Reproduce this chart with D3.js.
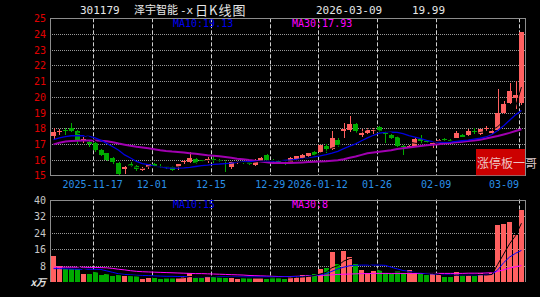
<!DOCTYPE html>
<html>
<head>
<meta charset="utf-8">
<script src="https://cdn.jsdelivr.net/npm/d3@7"></script>
<style>
  body { margin: 0; background: #000; }
  svg { display: block; }
</style>
</head>
<body>
<svg id="chart" width="540" height="297"></svg>
<script>
// trading days shown (80 sessions)
const dates = [
  "2025-11-06","2025-11-07","2025-11-10","2025-11-11","2025-11-12","2025-11-13","2025-11-14",
  "2025-11-17","2025-11-18","2025-11-19","2025-11-20","2025-11-21",
  "2025-11-24","2025-11-25","2025-11-26","2025-11-27","2025-11-28",
  "2025-12-01","2025-12-02","2025-12-03","2025-12-04","2025-12-05",
  "2025-12-08","2025-12-09","2025-12-10","2025-12-11","2025-12-12",
  "2025-12-15","2025-12-16","2025-12-17","2025-12-18","2025-12-19",
  "2025-12-22","2025-12-23","2025-12-24","2025-12-25","2025-12-26",
  "2025-12-29","2025-12-30","2025-12-31",
  "2026-01-05","2026-01-06","2026-01-07","2026-01-08","2026-01-09",
  "2026-01-12","2026-01-13","2026-01-14","2026-01-15","2026-01-16",
  "2026-01-19","2026-01-20","2026-01-21","2026-01-22","2026-01-23",
  "2026-01-26","2026-01-27","2026-01-28","2026-01-29","2026-01-30",
  "2026-02-02","2026-02-03","2026-02-04","2026-02-05","2026-02-06",
  "2026-02-09","2026-02-10","2026-02-11","2026-02-12","2026-02-13",
  "2026-02-24","2026-02-25","2026-02-26","2026-02-27",
  "2026-03-02","2026-03-03","2026-03-04","2026-03-05","2026-03-06",
  "2026-03-09"
];

const open = [
  17.5,17.75,17.9,18.02,17.85,17.2,17.12,17.05,16.6,16.4,
  16.1,15.8,15.38,15.75,15.6,15.32,15.5,15.7,15.62,15.58,
  15.52,15.5,15.82,15.85,16.05,15.95,15.88,16.02,15.98,15.78,
  15.5,15.8,15.85,15.82,15.68,15.92,16.28,16.0,15.9,15.82,
  15.8,16.05,16.12,16.22,16.5,16.5,16.85,16.7,17.25,17.8,
  17.88,18.28,17.55,17.72,17.8,18.08,17.75,17.55,17.45,16.88,
  16.82,16.88,17.3,17.2,16.98,17.22,17.3,17.25,17.4,17.55,
  17.55,17.85,17.6,17.95,17.72,17.9,18.96,19.6,19.95,19.6
];
const high = [
  18.0,17.95,18.0,18.3,17.9,17.45,17.2,17.1,16.65,16.45,
  16.15,15.85,15.6,15.85,15.65,15.55,15.75,15.78,15.7,15.62,
  15.6,15.75,15.98,16.5,16.1,16.0,16.15,16.2,16.05,16.0,
  15.88,15.92,15.9,15.88,16.02,16.15,16.35,16.05,15.95,15.88,
  16.15,16.25,16.35,16.45,16.55,16.95,17.0,17.85,17.4,18.3,
  18.75,18.3,17.95,18.0,18.0,18.12,17.85,17.6,17.48,16.95,
  16.95,17.4,17.56,17.25,17.12,17.32,17.35,17.3,17.82,17.6,
  17.95,18.0,17.98,18.12,18.0,20.5,19.76,20.88,21.0,24.14
];
const low = [
  17.3,17.55,17.55,17.75,17.0,17.05,16.8,16.5,16.2,15.9,
  15.75,15.0,15.1,15.5,15.3,15.25,15.4,15.55,15.45,15.4,
  15.25,15.35,15.75,15.8,15.75,15.82,15.78,15.8,15.82,15.2,
  15.42,15.7,15.72,15.68,15.62,15.85,15.9,15.85,15.75,15.65,
  15.75,16.0,16.05,16.15,16.25,16.45,16.4,16.6,16.8,17.35,
  17.75,17.7,17.45,17.65,17.62,17.75,17.05,17.3,16.78,16.3,
  16.75,16.8,17.0,17.05,16.72,17.18,17.18,17.12,17.35,17.42,
  17.5,17.65,17.58,17.82,17.65,17.85,18.9,19.55,19.25,19.5
];
const close = [
  17.75,17.85,17.85,17.82,17.2,17.3,17.02,16.62,16.3,15.95,
  15.85,15.1,15.55,15.62,15.4,15.45,15.7,15.6,15.52,15.5,
  15.35,15.7,15.92,16.12,15.8,15.88,16.02,15.96,15.9,15.7,
  15.82,15.86,15.8,15.75,15.98,16.1,15.96,15.9,15.82,15.72,
  16.1,16.2,16.3,16.4,16.32,16.9,16.65,17.38,16.95,17.95,
  18.28,17.82,17.7,17.9,17.88,17.8,17.62,17.38,16.85,16.82,
  16.88,17.3,17.18,17.1,17.05,17.28,17.22,17.18,17.7,17.45,
  17.8,17.75,17.94,18.02,17.85,18.95,19.52,20.37,20.12,24.14
];
// volume, x万
const volume = [
  12.5,7.7,6.6,6.3,6.3,4.2,4.2,5.0,3.4,3.9,
  2.9,3.4,3.1,2.9,2.9,1.8,2.3,2.1,1.8,2.1,
  2.1,2.1,2.9,4.7,2.1,2.1,2.6,2.6,2.6,2.1,
  2.1,1.8,2.1,2.1,2.1,2.1,1.8,2.6,2.1,1.8,
  2.6,2.9,3.4,3.4,3.9,6.3,7.0,14.4,8.6,15.0,
  12.2,8.6,5.8,4.7,5.3,5.8,4.7,3.9,5.3,4.7,
  5.8,4.7,3.9,3.4,3.9,3.4,2.6,2.6,5.1,3.4,
  3.4,3.0,4.4,3.4,4.7,27.8,28.0,29.1,23.0,34.7
];
// moving averages as drawn
const ma10 = [
  17.28,17.38,17.47,17.52,17.53,17.52,17.48,17.38,17.22,17.03,
  16.82,16.6,16.3,16.1,15.88,15.75,15.68,15.58,15.54,15.48,
  15.46,15.46,15.47,15.5,15.56,15.62,15.65,15.7,15.72,15.75,
  15.78,15.82,15.85,15.87,15.89,15.89,15.9,15.9,15.92,15.95,
  15.98,16.02,16.06,16.12,16.18,16.24,16.32,16.42,16.53,16.7,
  16.86,17.0,17.2,17.38,17.55,17.68,17.74,17.75,17.73,17.66,
  17.53,17.43,17.33,17.22,17.15,17.12,17.1,17.12,17.16,17.2,
  17.24,17.3,17.36,17.44,17.6,17.85,18.15,18.5,18.85,19.13
];
const ma30 = [
  16.97,17.08,17.15,17.18,17.2,17.21,17.21,17.21,17.2,17.17,
  17.1,17.02,16.95,16.88,16.82,16.77,16.72,16.66,16.6,16.55,
  16.51,16.48,16.45,16.41,16.37,16.33,16.28,16.25,16.21,16.17,
  16.12,16.06,16.02,15.97,15.93,15.88,15.83,15.79,15.78,15.78,
  15.78,15.8,15.82,15.84,15.86,15.88,15.9,15.93,15.96,16.02,
  16.12,16.2,16.3,16.4,16.45,16.5,16.55,16.6,16.67,16.72,
  16.77,16.82,16.87,16.92,16.95,16.98,17.02,17.06,17.1,17.14,
  17.18,17.22,17.27,17.34,17.42,17.5,17.6,17.7,17.82,17.93
];
const volMa10 = [
  6.6,6.6,6.5,6.4,6.3,6.3,6.3,6.3,6.2,5.5,
  4.8,4.1,3.8,3.6,3.4,3.3,3.2,3.1,3.0,2.9,
  2.9,2.8,2.8,2.8,2.7,2.7,2.7,2.7,2.7,2.7,
  2.6,2.6,2.6,2.6,2.6,2.6,2.6,2.6,2.6,2.7,
  2.7,2.8,2.8,3.0,3.3,3.7,4.2,5.3,6.5,7.3,
  8.0,8.2,8.3,8.3,8.3,8.3,8.2,7.3,6.5,5.7,
  5.3,4.8,4.5,4.2,4.0,3.8,3.6,3.5,3.4,3.4,
  3.4,3.5,3.6,3.7,3.8,6.0,9.5,12.2,14.0,15.4
];
const volMa30 = [
  7.3,7.3,7.3,7.3,7.3,7.3,7.2,7.2,7.1,7.0,
  6.7,6.3,6.0,5.6,5.3,5.1,5.0,4.9,4.8,4.7,
  4.6,4.5,4.4,4.3,4.2,4.2,4.1,4.0,3.9,3.8,
  3.7,3.6,3.5,3.3,3.2,3.1,3.0,2.9,2.8,2.8,
  2.8,2.9,3.0,3.1,3.2,3.3,3.4,3.6,3.8,3.9,
  4.0,4.1,4.2,4.2,4.3,4.3,4.3,4.3,4.3,4.3,
  4.3,4.3,4.3,4.3,4.3,4.3,4.3,4.3,4.3,4.3,
  4.4,4.4,4.4,4.5,4.6,5.3,6.0,6.9,7.5,8.1
];

const tickDates = ["2025-11-17","2025-12-01","2025-12-15","2025-12-29","2026-01-12","2026-01-26","2026-02-09","2026-03-09"];
const tickLabels = ["2025-11-17","12-01","12-15","12-29","2026-01-12","01-26","02-09","03-09"];
const priceTicks = [15,16,17,18,19,20,21,22,23,24,25];
const volTicks = [8,16,24,32,40];

const svg = d3.select("#chart");
const left = 50, right = 525;
const pTop = 18.3, pBot = 175.3;
const vTop = 199.5, vBot = 282.3;
const UP = "#ff6060", DOWN = "#00aa00";
const mono = "'DejaVu Sans Mono', monospace";
const cjk = "'Noto Sans CJK SC', sans-serif";

svg.append("rect").attr("width", 540).attr("height", 297).attr("fill", "#000");

const x = d3.scaleBand().domain(dates).range([left, right]).padding(0.2);
const bw = x.bandwidth();
const cx = d => x(d) + bw / 2;
const y = d3.scaleLinear().domain([15, 25]).range([pBot, pTop]);
const yv = d3.scaleLinear().domain([0, 40]).range([vBot, vTop]);

// simple moving average of the data itself (MA5, black)
const sma = (arr, n) => arr.map((v, i) => i < n - 1 ? null : d3.mean(arr.slice(i - n + 1, i + 1)));
const ma5 = sma(close, 5);
const volMa5 = sma(volume, 5);

// ---- grids
function grid(g, top, bot, ticks, scale) {
  g.selectAll(".h").data(ticks).join("line")
    .attr("x1", left).attr("x2", right)
    .attr("y1", d => Math.round(scale(d)) + 0.5).attr("y2", d => Math.round(scale(d)) + 0.5)
    .attr("stroke", "#9a9a9a").attr("stroke-dasharray", "1,1");
  g.selectAll(".v").data(tickDates).join("line")
    .attr("x1", d => Math.round(x(d)) + 0.5).attr("x2", d => Math.round(x(d)) + 0.5)
    .attr("y1", top).attr("y2", bot)
    .attr("stroke", "#d0d0d0").attr("stroke-dasharray", "4,2");
}
grid(svg.append("g"), pTop, pBot, priceTicks.slice(1, -1), y);
grid(svg.append("g"), vTop, vBot, volTicks.slice(0, -1), yv);

// ---- candles
const idx = d3.range(dates.length);
const cg = svg.append("g").attr("shape-rendering", "crispEdges");
cg.selectAll("line").data(idx).join("line")
  .attr("x1", i => Math.round(cx(dates[i])) + 0.5).attr("x2", i => Math.round(cx(dates[i])) + 0.5)
  .attr("y1", i => y(high[i])).attr("y2", i => y(low[i]))
  .attr("stroke", i => close[i] >= open[i] ? UP : DOWN);
cg.selectAll("rect").data(idx).join("rect")
  .attr("x", i => Math.round(x(dates[i])))
  .attr("width", Math.round(bw))
  .attr("y", i => y(Math.max(open[i], close[i])))
  .attr("height", i => Math.max(1, Math.abs(y(open[i]) - y(close[i]))))
  .attr("fill", i => close[i] >= open[i] ? UP : DOWN);

// ---- price MAs
const line = (scale) => d3.line().defined(d => d[1] != null).x(d => cx(d[0])).y(d => scale(d[1]));
const pairs = arr => dates.map((d, i) => [d, arr[i]]);
svg.append("path").attr("d", line(y)(pairs(ma30))).attr("fill", "none").attr("stroke", "#a000b0").attr("stroke-width", 2);
svg.append("path").attr("d", line(y)(pairs(ma10))).attr("fill", "none").attr("stroke", "#0000e0").attr("stroke-width", 1.3);
svg.append("path").attr("d", line(y)(pairs(ma5))).attr("fill", "none").attr("stroke", "#000").attr("stroke-width", 1);

// ---- volume bars
const vg = svg.append("g").attr("shape-rendering", "crispEdges");
vg.selectAll("rect").data(idx).join("rect")
  .attr("x", i => Math.round(x(dates[i])))
  .attr("width", Math.round(bw))
  .attr("y", i => yv(volume[i]))
  .attr("height", i => vBot - yv(volume[i]))
  .attr("fill", i => close[i] >= open[i] ? UP : DOWN);
svg.append("path").attr("d", line(yv)(pairs(volMa30))).attr("fill", "none").attr("stroke", "#ff00ff").attr("stroke-width", 1);
svg.append("path").attr("d", line(yv)(pairs(volMa10))).attr("fill", "none").attr("stroke", "#0000ff").attr("stroke-width", 1);
svg.append("path").attr("d", line(yv)(pairs(volMa5))).attr("fill", "none").attr("stroke", "#000").attr("stroke-width", 1);

// ---- borders
const border = svg.append("g").attr("fill", "none").attr("stroke", "#8c8c8c").attr("shape-rendering", "crispEdges");
border.append("rect").attr("x", left + 0.5).attr("y", Math.round(pTop) + 0.5)
  .attr("width", right - left).attr("height", Math.round(pBot) - Math.round(pTop));
border.append("path").attr("d", `M${left + 0.5},${vBot}V${Math.round(vTop) + 0.5}H${right + 0.5}V${vBot}`);

// ---- axis labels
svg.append("g").selectAll("text").data(priceTicks).join("text")
  .attr("x", 46).attr("y", d => y(d) + 4)
  .attr("text-anchor", "end").attr("font-family", mono).attr("font-size", 10)
  .attr("fill", "#e00000").text(d => d);
svg.append("g").selectAll("text").data(volTicks).join("text")
  .attr("x", 46).attr("y", d => yv(d) + 4)
  .attr("text-anchor", "end").attr("font-family", mono).attr("font-size", 10)
  .attr("fill", "#c8c8c8").text(d => d);
svg.append("text").attr("x", 46).attr("y", vBot + 4).attr("text-anchor", "end")
  .attr("font-family", cjk).attr("font-size", 10).attr("font-style", "italic").attr("font-weight", "bold")
  .attr("fill", "#e0e0e0").text("x万");

svg.append("g").selectAll("text").data(tickDates).join("text")
  .attr("x", d => x(d)).attr("y", 188)
  .attr("text-anchor", "middle").attr("font-family", mono).attr("font-size", 10)
  .attr("fill", "#2a90e8").text((d, i) => tickLabels[i])
  .each(function () {
    const b = this.getBBox();
    if (b.x + b.width > right - 6) d3.select(this).attr("text-anchor", "end").attr("x", right - 6);
  });

// ---- title and MA readouts
const last = dates.length - 1;
const title = svg.append("g").attr("fill", "#e6e6e6").attr("font-size", 11);
title.append("text").attr("x", 80).attr("y", 14).attr("font-family", mono).text("301179");
title.append("text").attr("x", 134).attr("y", 14).attr("font-family", cjk).attr("font-size", 11).text("泽宇智能");
title.append("text").attr("x", 180).attr("y", 14).attr("font-family", mono).text("-x");
title.append("text").attr("x", 195).attr("y", 14.5).attr("font-family", cjk).attr("font-size", 13)
  .attr("letter-spacing", 1).text("日K线图");
title.append("text").attr("x", 316).attr("y", 14).attr("font-family", mono).text(dates[last]);
title.append("text").attr("x", 412).attr("y", 14).attr("font-family", mono).text("19.99");

svg.append("text").attr("x", 173).attr("y", 27).attr("font-family", mono).attr("font-size", 10)
  .attr("fill", "#0000f0").text("MA10:" + ma10[last].toFixed(2));
svg.append("text").attr("x", 292).attr("y", 27).attr("font-family", mono).attr("font-size", 10)
  .attr("fill", "#ff00ff").text("MA30:" + ma30[last].toFixed(2));
svg.append("text").attr("x", 173).attr("y", 208).attr("font-family", mono).attr("font-size", 10)
  .attr("fill", "#0000f0").text("MA10:" + Math.round(volMa10[last]));
svg.append("text").attr("x", 292).attr("y", 208).attr("font-family", mono).attr("font-size", 10)
  .attr("fill", "#ff00ff").text("MA30:" + Math.round(volMa30[last]));

// ---- watermark
svg.append("rect").attr("x", 476).attr("y", 149).attr("width", right - 476).attr("height", pBot - 149)
  .attr("fill", "#cc0000");
svg.append("text").attr("x", 477).attr("y", 168).attr("font-family", cjk).attr("font-size", 12)
  .attr("fill", "#f2dede").attr("fill-opacity", 0.9).text("涨停板一哥");
</script>
</body>
</html>
